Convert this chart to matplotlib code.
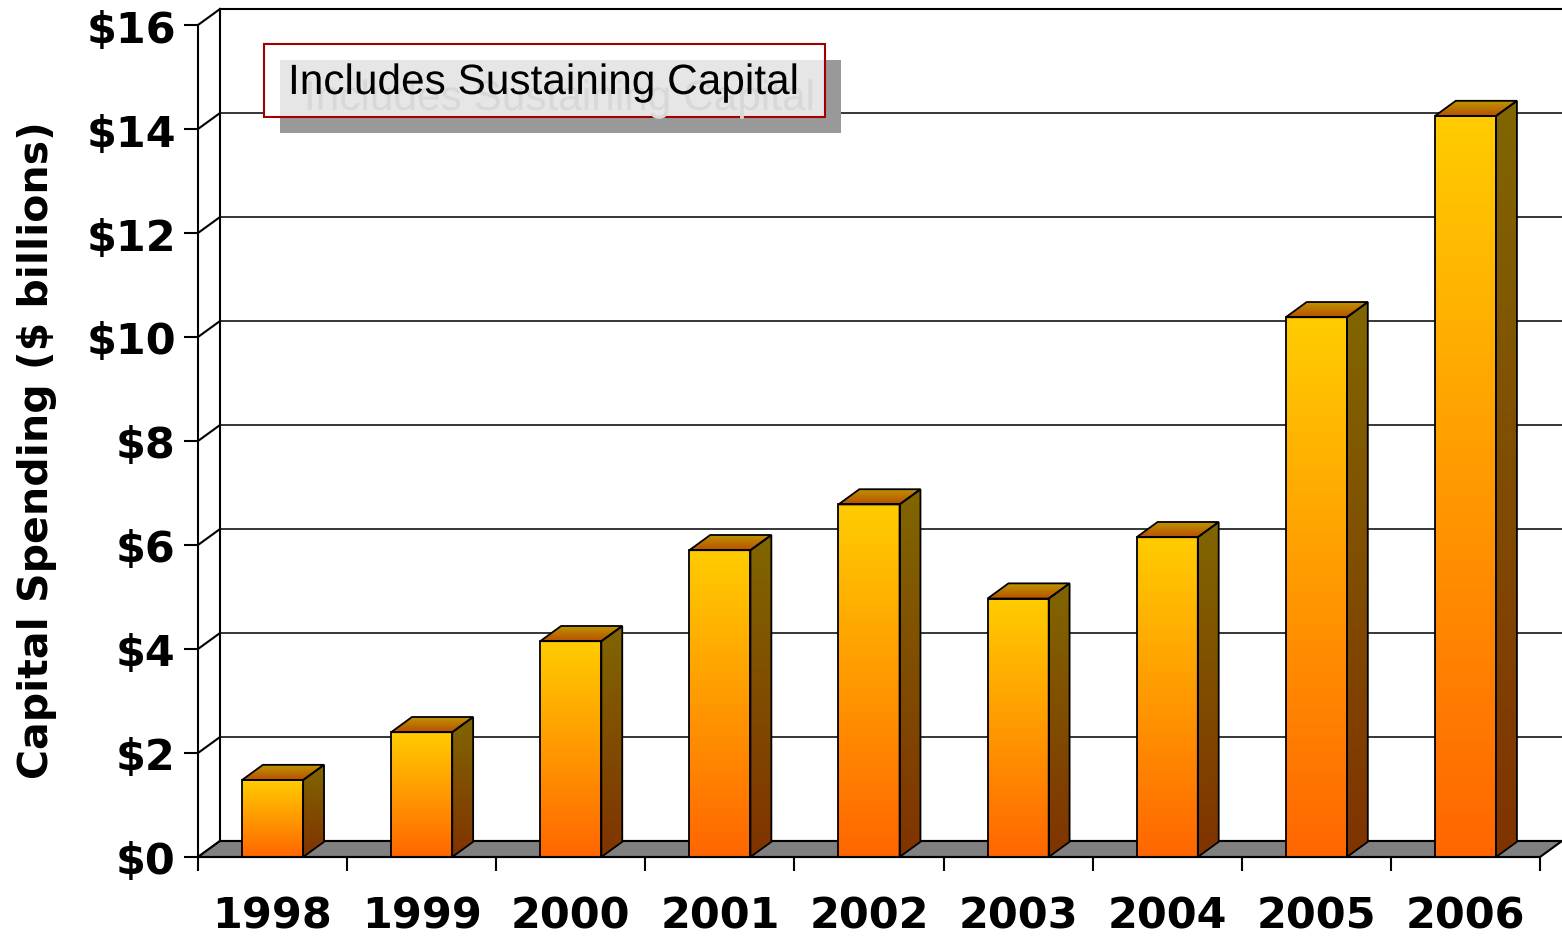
import matplotlib
matplotlib.use('Agg')
import matplotlib.pyplot as plt
import matplotlib.patheffects as pe
from matplotlib.patches import Polygon, Rectangle
from matplotlib.colors import to_rgb
import numpy as np

years = ['1998', '1999', '2000', '2001', '2002', '2003', '2004', '2005', '2006']
spending = [1.48, 2.4, 4.15, 5.9, 6.78, 4.97, 6.15, 10.38, 14.25]
yticks = [0, 2, 4, 6, 8, 10, 12, 14, 16]
ytick_labels = ['$' + str(v) for v in yticks]
note = 'Includes Sustaining Capital'
ylabel = 'Capital Spending ($ billions)'

W, H = 1562, 937
fig = plt.figure(figsize=(W / 100, H / 100), dpi=100)

# front plane of the 3d box, in pixels
left, right, bottom, top = 198, 1540, 858, 26
ax = fig.add_axes([left / W, (H - bottom) / H, (right - left) / W, (bottom - top) / H])
n = len(years)
ax.set_xlim(-0.5, n - 0.5)
ax.set_ylim(0, 16)
ax.set_autoscale_on(False)
for s in ax.spines.values():
    s.set_visible(False)

# depth of the box (22px right, 16px up) in data units
dx = 22 / ((right - left) / n)
dy = 16 / ((bottom - top) / 16)
x0, x1 = -0.5, n - 0.5

lw = 1.5
# floor
ax.add_patch(Polygon([(x0, 0), (x1, 0), (x1 + dx, dy), (x0 + dx, dy)], closed=True,
                     facecolor='#808080', edgecolor='black', lw=lw, zorder=1, clip_on=False))
# back wall grid + side wall diagonals
for v in yticks:
    ax.plot([x0 + dx, x1 + dx], [v + dy, v + dy], color='black', lw=1.1 if v not in (0, 16) else lw,
            zorder=0.5, clip_on=False)
    ax.plot([x0, x0 + dx], [v, v + dy], color='black', lw=lw, zorder=0.5, clip_on=False)
ax.plot([x0 + dx, x0 + dx], [dy, 16 + dy], color='black', lw=lw, zorder=0.5, clip_on=False)
ax.plot([x0, x0], [0, 16], color='black', lw=lw, zorder=0.6, clip_on=False)
ax.plot([x0, x1], [0, 0], color='black', lw=lw, zorder=3, clip_on=False)


def grad_fill(verts, c_lo, c_hi, ya, yb, z):
    poly = Polygon(verts, closed=True, facecolor='none', edgecolor='none', clip_on=False)
    ax.add_patch(poly)
    lo, hi = np.array(to_rgb(c_lo)), np.array(to_rgb(c_hi))
    t = np.linspace(0, 1, 256)[:, None, None]
    img = lo + (hi - lo) * t
    xs = [p[0] for p in verts]
    im = ax.imshow(img, extent=[min(xs), max(xs), ya, yb], origin='lower', aspect='auto',
                   interpolation='bilinear', zorder=z, clip_on=True)
    im.set_clip_path(poly)
    ax.add_patch(Polygon(verts, closed=True, facecolor='none', edgecolor='black', lw=1.3,
                         zorder=z + 0.1, clip_on=False))


bw = 0.41
bdx, bdy = dx * 0.95, dy * 0.95
for i, v in enumerate(spending):
    a, b = i - bw / 2, i + bw / 2
    z = 2 + i * 0.01
    grad_fill([(a, 0), (b, 0), (b, v), (a, v)], '#ff6600', '#ffcc00', 0, v, z)
    grad_fill([(b, 0), (b + bdx, bdy), (b + bdx, v + bdy), (b, v)], '#803300', '#806600',
              0, v + bdy, z)
    grad_fill([(a, v), (b, v), (b + bdx, v + bdy), (a + bdx, v + bdy)], '#b85000', '#c09800',
              v, v + bdy, z)

# ticks
ax.set_yticks(yticks)
ax.set_yticklabels(ytick_labels)
ax.tick_params(axis='y', length=10, width=lw, pad=6, labelsize=31)
for lab in ax.get_yticklabels():
    lab.set_fontweight('bold')
ax.set_xticks(np.arange(n + 1) - 0.5)
ax.set_xticklabels([])
ax.set_xticks(np.arange(n), minor=True)
ax.set_xticklabels(years, minor=True, fontsize=31, fontweight='bold')
ax.tick_params(axis='x', which='major', length=10, width=lw)
ax.tick_params(axis='x', which='minor', length=0, pad=27)

fig.text(37 / W, 1 - 450 / H, ylabel, rotation=90, ha='center', va='center',
         fontsize=29.5, fontweight='bold')


# note box, positioned in pixels from the top left
def fr(x, y):
    return (x / W, 1 - y / H)


def frect(x, y, w, h, **kw):
    r = Rectangle(fr(x, y + h), w / W, h / H, transform=fig.transFigure, **kw)
    fig.patches.append(r)


frect(280, 61, 561, 73, facecolor='#999999', edgecolor='none', zorder=5)
frect(264, 45, 561, 73, facecolor='white', edgecolor='none', zorder=6)
frect(280, 61, 545, 57, facecolor='#e6e6e6', edgecolor='none', zorder=7)
frect(264, 45, 561, 73, facecolor='none', edgecolor='#a00000', lw=1.5, zorder=8)
# faint offset copy of the text, as in the original shadowed text box
shadow = pe.withSimplePatchShadow(offset=(11.5, -11.5), shadow_rgbFace='#d8d8d8', alpha=1)
fig.text(*fr(288, 84), note, fontsize=30.5, family='Liberation Sans', color='black',
         va='center', ha='left', zorder=10, path_effects=[shadow])

fig.savefig('out.png', dpi=100)
